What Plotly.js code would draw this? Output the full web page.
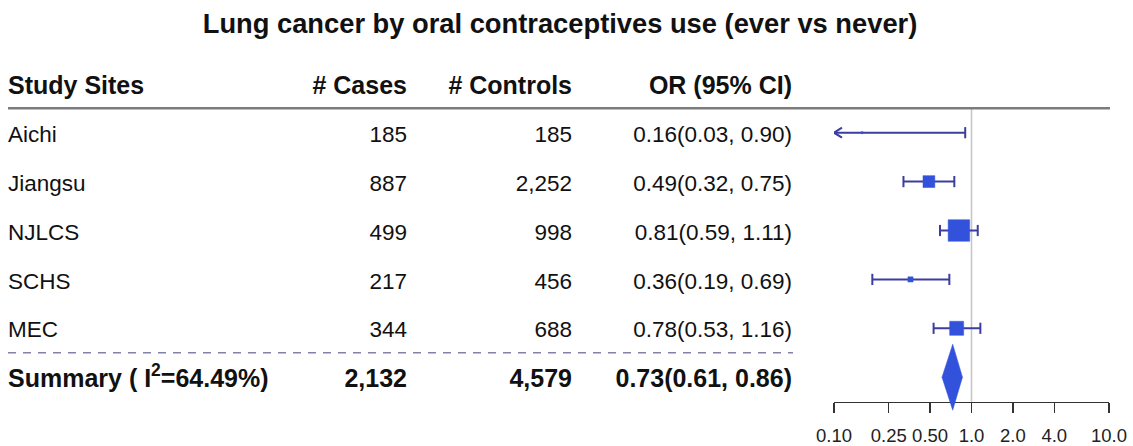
<!DOCTYPE html>
<html>
<head>
<meta charset="utf-8">
<script src="https://cdn.plot.ly/plotly-3.0.1.min.js"></script>
<style>html,body{margin:0;padding:0;background:#fff;}#chart{width:1133px;height:446px;}</style>
</head>
<body>
<div id="chart"></div>
<script>
// ---------------- data ----------------
const chartTitle = "Lung cancer by oral contraceptives use (ever vs never)";
const headers = ["Study Sites", "# Cases", "# Controls", "OR (95% CI)"];
const studies = ["Aichi", "Jiangsu", "NJLCS", "SCHS", "MEC"];
const cases = [185, 887, 499, 217, 344];
const controls = [185, 2252, 998, 456, 688];
const orEst = [0.16, 0.49, 0.81, 0.36, 0.78];
const ciLow = [0.03, 0.32, 0.59, 0.19, 0.53];
const ciHigh = [0.90, 0.75, 1.11, 0.69, 1.16];
const summaryLabel = "Summary ( I<sup>2</sup>=64.49%)";
const summaryCases = 2132;
const summaryControls = 4579;
const summaryOR = 0.73;
const summaryLow = 0.61;
const summaryHigh = 0.86;
const tickVals = [0.1, 0.25, 0.5, 1, 2, 4, 10];
const tickText = ["0.10", "0.25", "0.50", "1.0", "2.0", "4.0", "10.0"];

// ---------------- style ----------------
const W = 1133, H = 446;
const FONT = "Liberation Sans, Arial, Helvetica, sans-serif";
const TXT = "#111111";
const LINE_C = "#3d3d9e";
const BOX_C = "#3352dc";
const axisMin = 0.1, axisMax = 10;
const rowPx = 48.9, row1Px = 132.7;              // pixel placement of the rows
const yTop = 1 + (0 - row1Px) / rowPx;
const yBot = 1 + (H - row1Px) / rowPx;
const pxPerDecade = 275 / 2;
const textShift = 3.5 / rowPx;                    // text baseline nudge

const fmtN = v => v.toLocaleString("en-US");
const fmtCI = (o, l, h) => o.toFixed(2) + "(" + l.toFixed(2) + ", " + h.toFixed(2) + ")";

const nRows = studies.length;
const rowY = studies.map((_, i) => i + 1);
const summaryY = nRows + 1;
const allY = [0].concat(rowY, [summaryY]);

// ---------------- table columns (text traces on x2 axis, pixel-like units) ----------------
const colAnchor = [8, 407, 572, 792];
const colPos = ["middle right", "middle left", "middle left", "middle left"];
const colBody = [
  studies,
  cases.map(fmtN),
  controls.map(fmtN),
  orEst.map((o, i) => fmtCI(o, ciLow[i], ciHigh[i]))
];
const colSummary = [summaryLabel, fmtN(summaryCases), fmtN(summaryControls), fmtCI(summaryOR, summaryLow, summaryHigh)];
const sizes = [25].concat(studies.map(() => 22.5), [25]);

const traces = [];
colAnchor.forEach((xa, c) => {
  const txt = ["<b>" + headers[c] + "</b>"].concat(colBody[c], ["<b>" + colSummary[c] + "</b>"]);
  traces.push({
    type: "scatter", mode: "text", xaxis: "x2", yaxis: "y",
    x: allY.map(() => xa), y: allY.map(v => v + textShift), text: txt,
    textposition: colPos[c],
    textfont: {family: FONT, size: sizes, color: TXT},
    hoverinfo: "skip", showlegend: false, cliponaxis: false
  });
});

// ---------------- forest plot ----------------
// reference line at OR = 1
traces.push({
  type: "scatter", mode: "lines", x: [1, 1], y: [0.5, nRows + 1.5],
  line: {color: "#c4c4c4", width: 1.5}, hoverinfo: "skip", showlegend: false
});

// confidence intervals (clipped to axis), caps where not clipped
const ciX = [], ciY = [], capSize = [];
orEst.forEach((o, i) => {
  const lo = Math.max(ciLow[i], axisMin), hi = Math.min(ciHigh[i], axisMax);
  ciX.push(lo, hi, null); ciY.push(rowY[i], rowY[i], null);
  capSize.push(ciLow[i] < axisMin ? 0 : 8, ciHigh[i] > axisMax ? 0 : 8, 0);
});
traces.push({
  type: "scatter", mode: "lines+markers", x: ciX, y: ciY,
  line: {color: LINE_C, width: 2},
  marker: {symbol: "line-ns", size: capSize, opacity: 1, color: LINE_C, line: {color: LINE_C, width: 2}},
  hoverinfo: "skip", showlegend: false, cliponaxis: false, connectgaps: false
});

// arrows for CIs that run beyond the axis minimum
const arrowDx = Math.pow(10, 8 / pxPerDecade), arrowDy = 5 / rowPx;
const arX = [], arY = [];
orEst.forEach((o, i) => {
  if (ciLow[i] < axisMin) {
    arX.push(axisMin * arrowDx, axisMin, axisMin * arrowDx, null);
    arY.push(rowY[i] - arrowDy, rowY[i], rowY[i] + arrowDy, null);
  }
});
traces.push({
  type: "scatter", mode: "lines", x: arX, y: arY,
  line: {color: LINE_C, width: 2}, hoverinfo: "skip", showlegend: false
});

// boxes sized by inverse variance
const boxSize = orEst.map((o, i) => {
  const se = (Math.log(ciHigh[i]) - Math.log(ciLow[i])) / (2 * 1.96);
  return Math.max(2, 0.56 / (se * se));
});
traces.push({
  type: "scatter", mode: "markers", x: orEst, y: rowY,
  marker: {symbol: "square", size: boxSize, opacity: 1, color: BOX_C, line: {width: 0.5, color: BOX_C}},
  hoverinfo: "skip", showlegend: false, cliponaxis: false
});

// summary diamond
const dh = 33 / rowPx;
traces.push({
  type: "scatter", mode: "lines",
  x: [summaryLow, summaryOR, summaryHigh, summaryOR, summaryLow],
  y: [summaryY, summaryY - dh, summaryY, summaryY + dh, summaryY],
  fill: "toself", fillcolor: BOX_C, line: {color: BOX_C, width: 0.5},
  hoverinfo: "skip", showlegend: false
});

const axisLinePx = row1Px + (nRows + 0.5) * rowPx;

const layout = {
  width: W, height: H,
  margin: {l: 0, r: 0, t: 0, b: 0, pad: 0},
  paper_bgcolor: "#ffffff", plot_bgcolor: "rgba(0,0,0,0)",
  showlegend: false,
  title: {
    text: "<b>" + chartTitle + "</b>",
    x: 560 / W, xref: "container", xanchor: "center",
    y: 1 - 23 / H, yref: "container", yanchor: "middle",
    font: {family: FONT, size: 27.3, color: TXT}
  },
  xaxis: {
    type: "log", domain: [834 / W, 1109 / W], range: [Math.log10(axisMin), Math.log10(axisMax)],
    anchor: "free", position: 1 - axisLinePx / H,
    showline: true, linecolor: "#333333", linewidth: 1.5,
    ticks: "outside", ticklen: 10, tickwidth: 1.5, tickcolor: "#333333",
    tickvals: tickVals, ticktext: tickText, ticklabelstandoff: 7,
    tickfont: {family: FONT, size: 18.5, color: "#222222"},
    showgrid: false, zeroline: false, layer: "below traces", fixedrange: true
  },
  xaxis2: {
    domain: [0, 1], range: [0, W], anchor: "y", visible: false,
    showgrid: false, zeroline: false, fixedrange: true
  },
  yaxis: {
    domain: [0, 1], range: [yBot, yTop], visible: false,
    showgrid: false, zeroline: false, fixedrange: true
  },
  shapes: [
    {type: "line", xref: "x2", yref: "y", x0: 8, x1: 1110, y0: 0.5, y1: 0.5,
     line: {color: "#7c7c7c", width: 2.5}},
    {type: "line", xref: "x2", yref: "y", x0: 8, x1: 793, y0: nRows + 0.5, y1: nRows + 0.5,
     line: {color: "#8282a8", width: 1.5, dash: "8px,7px"}}
  ]
};

Plotly.newPlot("chart", traces, layout, {displayModeBar: false, staticPlot: true});
</script>
</body>
</html>
